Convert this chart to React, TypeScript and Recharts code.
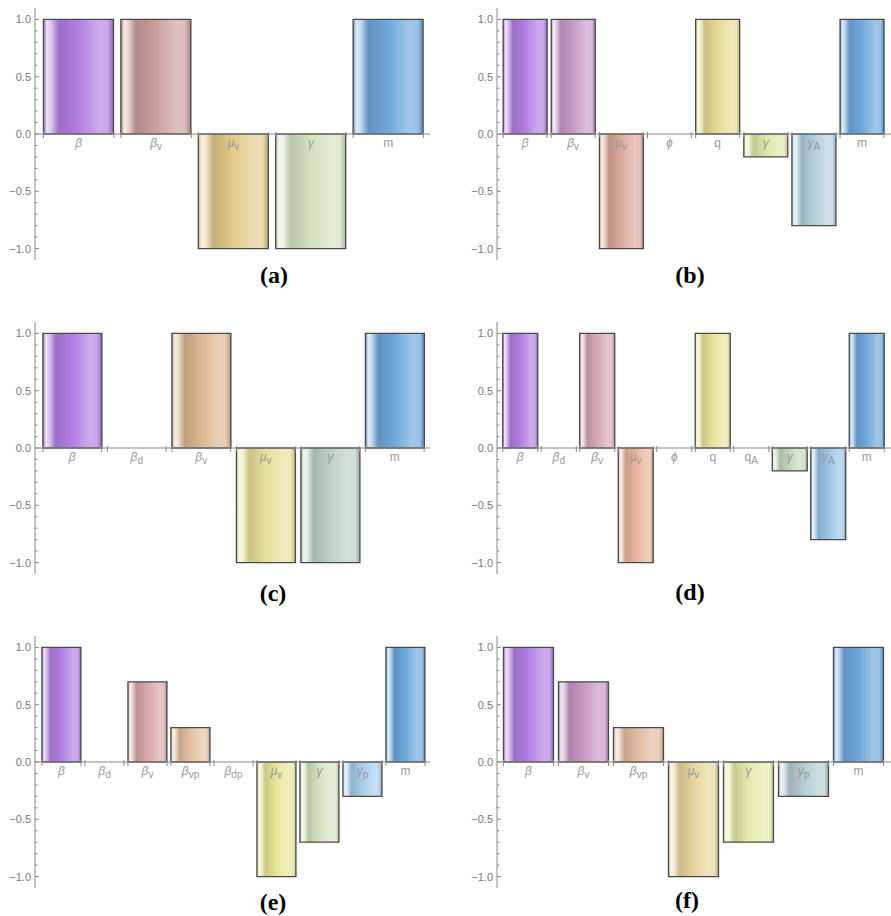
import React from 'react';
import { BarChart, Bar, XAxis, YAxis, Cell, ReferenceLine } from 'recharts';

// ---------- data ----------
const A_CATS = ['β', 'β_v', 'μ_v', 'γ', 'm'];
const A_VALS = [1, 1, -1, -1, 1];
const A_COLORS = ['#b27ee2', '#cc9e9e', '#e2c98a', '#d4e2c0', '#6fa8dc'];

const B_CATS = ['β', 'β_v', 'μ_v', 'ϕ', 'q', 'γ', 'γ_A', 'm'];
const B_VALS = [1, 1, -1, 0, 1, -0.2, -0.8, 1];
const B_COLORS = ['#b27ee2', '#c89ac8', '#dcaa9c', '#cccccc', '#e6dc96', '#dde5a8', '#b2cfdc', '#6fa8dc'];

const C_CATS = ['β', 'β_d', 'β_v', 'μ_v', 'γ', 'm'];
const C_VALS = [1, 0, 1, -1, -1, 1];
const C_COLORS = ['#b27ee2', '#cccccc', '#dcb690', '#e6e09a', '#bcd2c4', '#6fa8dc'];

const D_CATS = ['β', 'β_d', 'β_v', 'μ_v', 'ϕ', 'q', 'q_A', 'γ', 'γ_A', 'm'];
const D_VALS = [1, 0, 1, -1, 0, 1, 0, -0.2, -0.8, 1];
const D_COLORS = ['#b27ee2', '#cccccc', '#d6a8b4', '#e6b49a', '#cccccc', '#e8e29a', '#cccccc', '#c4d8bc', '#9ac4e6', '#6fa8dc'];

const E_CATS = ['β', 'β_d', 'β_v', 'β_vp', 'β_dp', 'μ_v', 'γ', 'γ_p', 'm'];
const E_VALS = [1, 0, 0.7, 0.3, 0, -1, -0.7, -0.3, 1];
const E_COLORS = ['#b27ee2', '#cccccc', '#d8a8a8', '#e4c0a0', '#cccccc', '#e8e69a', '#d4e4c0', '#a8cce8', '#6fa8dc'];

const F_CATS = ['β', 'β_v', 'β_vp', 'μ_v', 'γ', 'γ_p', 'm'];
const F_VALS = [1, 0.7, 0.3, -1, -0.7, -0.3, 1];
const F_COLORS = ['#b27ee2', '#c898c4', '#e4bca4', '#e8d49c', '#e4eaa8', '#b4ccd0', '#6fa8dc'];

const Y_TICKS = [-1, -0.9, -0.8, -0.7, -0.6, -0.5, -0.4, -0.3, -0.2, -0.1, 0, 0.1, 0.2, 0.3, 0.4, 0.5, 0.6, 0.7, 0.8, 0.9, 1];
const PANEL_LABELS = ['(a)', '(b)', '(c)', '(d)', '(e)', '(f)'];

// ---------- helpers ----------
const PLOT_H = 252;
const BAR_FRAC = 0.91;
const AXIS_GRAY = '#8a8a8a';

function hexToRgb(h: string) {
  const n = parseInt(h.slice(1), 16);
  return [(n >> 16) & 255, (n >> 8) & 255, n & 255];
}
function mix(h: string, target: number, t: number) {
  const c = hexToRgb(h).map((v) => Math.round(v + (target - v) * t));
  return `rgb(${c[0]},${c[1]},${c[2]})`;
}

function Grad({ id, color }: { id: string; color: string }) {
  return (
    <linearGradient id={id} x1="0" y1="0" x2="1" y2="0">
      <stop offset="0%" stopColor={mix(color, 0, 0.1)} />
      <stop offset="5%" stopColor={mix(color, 255, 0.78)} />
      <stop offset="11%" stopColor={mix(color, 255, 0.55)} />
      <stop offset="22%" stopColor={mix(color, 0, 0.13)} />
      <stop offset="50%" stopColor={color} />
      <stop offset="80%" stopColor={mix(color, 255, 0.35)} />
      <stop offset="92%" stopColor={mix(color, 255, 0.3)} />
      <stop offset="100%" stopColor={mix(color, 0, 0.18)} />
    </linearGradient>
  );
}

function CatLabel({ x, y, label }: { x: number; y: number; label: string }) {
  const [base, sub] = label.split('_');
  const greek = /[α-ωϕ]/.test(base);
  return (
    <text x={x} y={y} textAnchor="middle" fontFamily="Liberation Sans, Arial, sans-serif" fontSize={12} fill="#9a9a9a">
      <tspan fontStyle={greek ? 'italic' : 'normal'}>{base}</tspan>
      {sub ? (
        <tspan fontSize={10} dy={3}>
          {sub}
        </tspan>
      ) : null}
    </text>
  );
}

function YTick(props: any) {
  const { x, y, payload } = props;
  const v = payload.value as number;
  const major = Math.abs(v * 2 - Math.round(v * 2)) < 1e-6;
  const txt = (v < 0 ? '−' : '') + Math.abs(v).toFixed(1);
  return (
    <g>
      <line x1={x} x2={x + (major ? 4 : 2.5)} y1={y} y2={y} stroke={AXIS_GRAY} strokeWidth={1} />
      {major ? (
        <text x={x - 4} y={y} dy={4} textAnchor="end" fontFamily="Liberation Sans, Arial, sans-serif" fontSize={11} fill="#7a7a7a">
          {txt}
        </text>
      ) : null}
    </g>
  );
}

type PanelCfg = {
  key: string;
  cats: string[];
  vals: number[];
  colors: string[];
  left: number;
  top: number;
  width: number;
  yAxisW: number;
  marginRight: number;
  padL: number;
  padR: number;
};

const MARGIN_TOP = 6;
const CHART_H = MARGIN_TOP + PLOT_H + 1 + 4;

function Panel({ cfg }: { cfg: PanelCfg }) {
  const data = cfg.cats.map((c, i) => ({ name: c, v: cfg.vals[i] }));
  const plotW = cfg.width - cfg.marginRight - cfg.yAxisW;
  const bw = (plotW - cfg.padL - cfg.padR) / cfg.cats.length;
  const barW = bw * BAR_FRAC;
  const XTick = (p: any) => {
    const { x, y, payload } = p;
    const zeroY = y - PLOT_H / 2;
    return (
      <g>
        <line x1={x - barW / 2} x2={x - barW / 2} y1={zeroY - 2} y2={zeroY + 4} stroke={AXIS_GRAY} />
        <line x1={x + barW / 2} x2={x + barW / 2} y1={zeroY - 2} y2={zeroY + 4} stroke={AXIS_GRAY} />
        <CatLabel x={x} y={zeroY + 13} label={payload.value} />
      </g>
    );
  };
  return (
    <div style={{ position: 'absolute', left: cfg.left, top: cfg.top }}>
      <BarChart
        width={cfg.width}
        height={CHART_H}
        data={data}
        margin={{ top: MARGIN_TOP, right: cfg.marginRight, left: 0, bottom: 4 }}
        barCategoryGap="4.5%"
      >
        <defs>
          {cfg.colors.map((c, i) => (
            <Grad key={i} id={`g-${cfg.key}-${i}`} color={c} />
          ))}
        </defs>
        <YAxis
          type="number"
          domain={[-1.1, 1.1]}
          allowDataOverflow
          ticks={Y_TICKS}
          interval={0}
          width={cfg.yAxisW}
          tickSize={0}
          tickMargin={0}
          tickLine={false}
          axisLine={{ stroke: AXIS_GRAY }}
          tick={YTick}
        />
        <XAxis
          dataKey="name"
          type="category"
          height={1}
          interval={0}
          tickSize={0}
          tickMargin={0}
          tickLine={false}
          axisLine={false}
          padding={{ left: cfg.padL, right: cfg.padR }}
          tick={XTick}
        />
        <Bar dataKey="v" isAnimationActive={false} stroke="#4a4a4a" strokeWidth={1.3}>
          {data.map((d, i) => (
            <Cell key={i} fill={`url(#g-${cfg.key}-${i})`} />
          ))}
        </Bar>
        <ReferenceLine y={0} stroke={AXIS_GRAY} strokeWidth={1} />
      </BarChart>
    </div>
  );
}

const LEFT = { left: 0, width: 445, yAxisW: 35, marginRight: 15, padL: 5, padR: 3 };
const RIGHT = { left: 445, width: 446, yAxisW: 52, marginRight: 0, padL: 4, padR: 5 };
const ROW_TOPS = [1.5, 315.5, 629.5];

const PANELS: PanelCfg[] = [
  { key: 'a', cats: A_CATS, vals: A_VALS, colors: A_COLORS, top: ROW_TOPS[0], ...LEFT },
  { key: 'b', cats: B_CATS, vals: B_VALS, colors: B_COLORS, top: ROW_TOPS[0], ...RIGHT },
  { key: 'c', cats: C_CATS, vals: C_VALS, colors: C_COLORS, top: ROW_TOPS[1], ...LEFT },
  { key: 'd', cats: D_CATS, vals: D_VALS, colors: D_COLORS, top: ROW_TOPS[1], ...RIGHT },
  { key: 'e', cats: E_CATS, vals: E_VALS, colors: E_COLORS, top: ROW_TOPS[2], ...LEFT },
  { key: 'f', cats: F_CATS, vals: F_VALS, colors: F_COLORS, top: ROW_TOPS[2], ...RIGHT },
];

const LABEL_POS = [
  [274, 275],
  [690, 275],
  [273, 593],
  [690, 592],
  [273, 902],
  [687, 900],
];

export default function App() {
  return (
    <div style={{ position: 'absolute', left: 0, top: 0, width: 891, height: 916, background: '#fff', overflow: 'hidden' }}>
      {PANELS.map((p) => (
        <Panel key={p.key} cfg={p} />
      ))}
      {PANEL_LABELS.map((t, i) => (
        <div
          key={t}
          style={{
            position: 'absolute',
            left: LABEL_POS[i][0],
            top: LABEL_POS[i][1],
            transform: 'translate(-50%, -50%)',
            fontFamily: '"Liberation Serif", "Times New Roman", serif',
            fontWeight: 'bold',
            fontSize: 24,
            lineHeight: 1,
            color: '#000',
          }}
        >
          {t}
        </div>
      ))}
    </div>
  );
}
